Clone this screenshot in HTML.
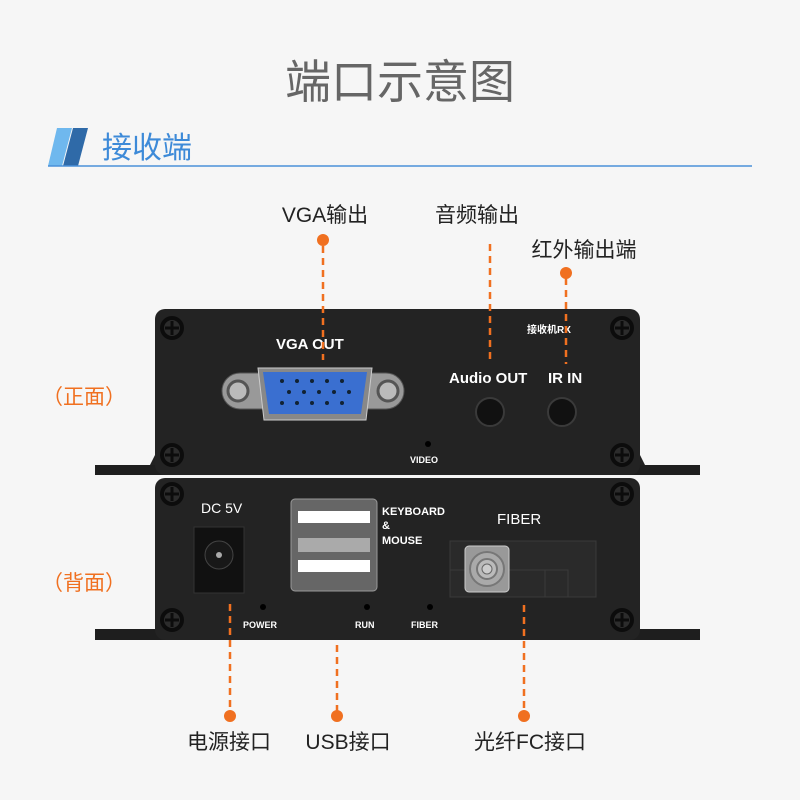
<!DOCTYPE html><html><head><meta charset="utf-8"><style>body{margin:0;background:#f6f6f6}svg{display:block}</style></head><body>
<svg width="800" height="800" viewBox="0 0 800 800" xmlns="http://www.w3.org/2000/svg" font-family="Liberation Sans, Noto Sans CJK SC, sans-serif">
<rect width="800" height="800" fill="#f6f6f6"/>
<text x="400" y="98" text-anchor="middle" font-size="46" fill="#666">端口示意图</text>
<polygon points="57,128 72,128 62,166 48,166" fill="#6fb8ee"/>
<polygon points="73,128 88,128 78,166 63,166" fill="#2f6aa8"/>
<line x1="48" y1="166" x2="752" y2="166" stroke="#4a90d9" stroke-width="1.5"/>
<text x="102" y="158" font-size="30" fill="#3d8ad8">接收端</text>
<g font-size="21" fill="#222">
<text x="325" y="222" text-anchor="middle">VGA输出</text>
<text x="477" y="222" text-anchor="middle">音频输出</text>
<text x="584" y="257" text-anchor="middle">红外输出端</text>
<text x="229" y="749" text-anchor="middle">电源接口</text>
<text x="348" y="749" text-anchor="middle">USB接口</text>
<text x="530" y="749" text-anchor="middle">光纤FC接口</text>
</g>
<g font-size="21" fill="#f07020">
<text x="42" y="404">（正面）</text>
<text x="42" y="590">（背面）</text>
</g>
<path d="M95,465 L150,465 L155,455 L155,475 L95,475Z" fill="#222"/>
<path d="M700,465 L645,465 L640,455 L640,475 L700,475Z" fill="#222"/>
<rect x="95" y="465" width="605" height="10" fill="#1e1e1e"/>
<rect x="155" y="309" width="485" height="166" rx="10" fill="#232323"/>
<rect x="95" y="629" width="605" height="11" fill="#1e1e1e"/>
<rect x="155" y="478" width="485" height="162" rx="10" fill="#232323"/>
<g stroke="#0c0c0c" stroke-width="4" fill="#2c2c2c">
<circle cx="172" cy="328" r="10"/><circle cx="622" cy="328" r="10"/><circle cx="172" cy="455" r="10"/><circle cx="622" cy="455" r="10"/>
<circle cx="172" cy="494" r="10"/><circle cx="622" cy="494" r="10"/><circle cx="172" cy="620" r="10"/><circle cx="622" cy="620" r="10"/>
</g>
<g stroke="#0c0c0c" stroke-width="3">
<path d="M165,328h14M172,321v14M615,328h14M622,321v14M165,455h14M172,448v14M615,455h14M622,448v14M165,494h14M172,487v14M615,494h14M622,487v14M165,620h14M172,613v14M615,620h14M622,613v14"/>
</g>
<g fill="#fff" font-weight="bold">
<text x="276" y="349" font-size="15">VGA OUT</text>
<text x="449" y="383" font-size="15">Audio OUT</text>
<text x="548" y="383" font-size="15">IR IN</text>
<text x="527" y="333" font-size="10">接收机RX</text>
<text x="410" y="463" font-size="9">VIDEO</text>
<text x="201" y="513" font-size="14" font-weight="normal">DC 5V</text>
<text x="382" y="515" font-size="11">KEYBOARD</text>
<text x="382" y="529" font-size="11">&amp;</text>
<text x="382" y="544" font-size="11">MOUSE</text>
<text x="497" y="524" font-size="15" font-weight="normal">FIBER</text>
<text x="243" y="628" font-size="9">POWER</text>
<text x="355" y="628" font-size="9">RUN</text>
<text x="411" y="628" font-size="9">FIBER</text>
</g>
<rect x="222" y="373" width="182" height="36" rx="18" fill="#999" stroke="#555"/>
<circle cx="238" cy="391" r="10" fill="#bbb" stroke="#555" stroke-width="3"/>
<circle cx="388" cy="391" r="10" fill="#bbb" stroke="#555" stroke-width="3"/>
<path d="M258,368 L372,368 L366,420 L264,420Z" fill="#888" stroke="#ccc"/>
<path d="M263,372 L367,372 L361,414 L269,414Z" fill="#3a6fd0"/>
<g fill="#123">
<circle cx="282" cy="381" r="2"/><circle cx="297" cy="381" r="2"/><circle cx="312" cy="381" r="2"/><circle cx="327" cy="381" r="2"/><circle cx="342" cy="381" r="2"/>
<circle cx="289" cy="392" r="2"/><circle cx="304" cy="392" r="2"/><circle cx="319" cy="392" r="2"/><circle cx="334" cy="392" r="2"/><circle cx="349" cy="392" r="2"/>
<circle cx="282" cy="403" r="2"/><circle cx="297" cy="403" r="2"/><circle cx="312" cy="403" r="2"/><circle cx="327" cy="403" r="2"/><circle cx="342" cy="403" r="2"/>
</g>
<circle cx="490" cy="412" r="14" fill="#111" stroke="#3a3a3a" stroke-width="2"/>
<circle cx="562" cy="412" r="14" fill="#111" stroke="#3a3a3a" stroke-width="2"/>
<circle cx="428" cy="444" r="3" fill="#000"/>
<rect x="194" y="527" width="50" height="66" fill="#111" stroke="#333"/>
<circle cx="219" cy="555" r="14" fill="#181818" stroke="#444"/>
<circle cx="219" cy="555" r="3" fill="#aaa"/>
<rect x="291" y="499" width="86" height="92" rx="4" fill="#666" stroke="#999"/>
<rect x="298" y="511" width="72" height="12" fill="#fff"/>
<rect x="298" y="538" width="72" height="14" fill="#aaa"/>
<rect x="298" y="560" width="72" height="12" fill="#fff"/>
<rect x="450" y="541" width="146" height="56" fill="#2a2a2a" stroke="#3a3a3a"/>
<path d="M450,570h118v27M545,570v27" stroke="#3a3a3a" fill="none"/>
<rect x="465" y="546" width="44" height="46" rx="4" fill="#999" stroke="#ccc"/>
<circle cx="487" cy="569" r="17" fill="#aaa" stroke="#777" stroke-width="2"/>
<circle cx="487" cy="569" r="10" fill="#bbb" stroke="#777" stroke-width="2"/>
<circle cx="487" cy="569" r="5" fill="#ccc" stroke="#666"/>
<circle cx="263" cy="607" r="3" fill="#000"/><circle cx="367" cy="607" r="3" fill="#000"/><circle cx="430" cy="607" r="3" fill="#000"/>
<g stroke="#f07020" stroke-width="2.5" stroke-dasharray="7,5" fill="none">
<path d="M323,246V360M490,244V360M566,278V364M230,604V712M337,645V712M524,605V712"/>
</g>
<g fill="#f07020">
<circle cx="323" cy="240" r="6"/><circle cx="566" cy="273" r="6"/>
<circle cx="230" cy="716" r="6"/><circle cx="337" cy="716" r="6"/><circle cx="524" cy="716" r="6"/>
</g>
</svg>
</body></html>
